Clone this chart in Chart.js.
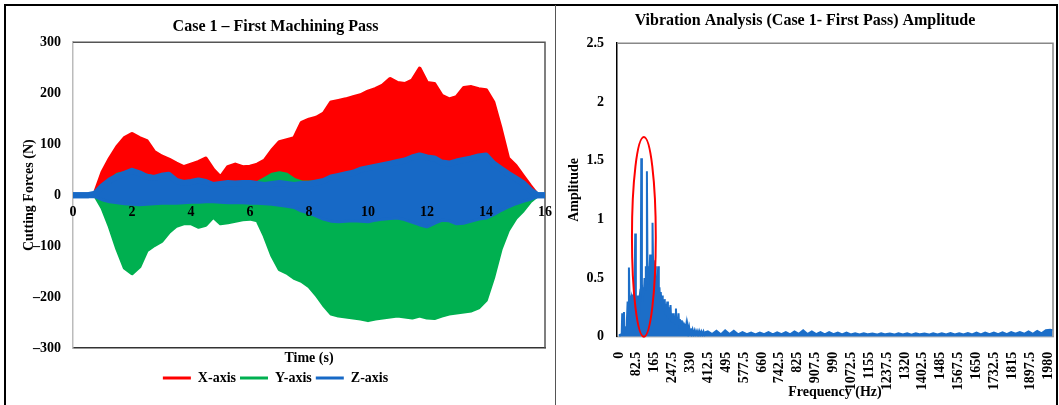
<!DOCTYPE html>
<html><head><meta charset="utf-8">
<script src="https://cdn.jsdelivr.net/npm/chart.js@4.4.1/dist/chart.umd.min.js"></script>
<style>
html,body{margin:0;padding:0;background:#fff;width:1059px;height:405px;overflow:hidden;}
#frame{position:absolute;left:4px;top:4px;width:1054px;height:420px;border:2px solid #000;box-sizing:border-box;}
#divider{position:absolute;left:555px;top:5px;width:1px;height:400px;background:#555;}
#w1{position:absolute;left:6px;top:6px;}
#w2{position:absolute;left:557px;top:6px;}
</style></head>
<body>
<div id="frame"></div><div id="divider"></div>
<div id="w1"><canvas id="c1" width="548" height="399"></canvas></div>
<div id="w2"><canvas id="c2" width="497" height="399"></canvas></div>
<script>
// ---------- Left chart data (envelopes of the dense force signals) ----------
const timeS = [
0,0.25,0.5,0.75, 1,1.25,1.5,1.75, 2,2.25,2.5,2.75, 3,3.25,3.5,3.75,
4,4.25,4.5,4.75, 5,5.25,5.5,5.75, 6,6.25,6.5,6.75, 7,7.25,7.5,7.75,
8,8.25,8.5,8.75, 9,9.25,9.5,9.75, 10,10.25,10.5,10.75, 11,11.25,11.5,11.75,
12,12.25,12.5,12.75, 13,13.25,13.5,13.75, 14,14.25,14.5,14.75, 15,15.25,15.5,15.75, 16];
const xAxisUpper = [
0,0,0,5, 45,72,95,112, 120,112,106,85, 76,70,62,55,
60,65,72,50, 35,55,60,55, 56,60,68,88, 104,108,112,142,
148,152,160,182, 185,188,192,196, 203,208,215,228, 220,218,225,248,
220,218,195,188, 192,210,212,208, 206,182,130,72, 58,38,18,0, 0];
const xAxisLower = [
0,0,0,0, -15,-20,-20,-20, -20,-20,-20,-20, -20,-20,-20,-20,
-20,-20,-20,-20, -20,-20,-20,-20, -20,-20,-20,-20, -20,-20,-20,-20,
-20,-20,-20,-20, -20,-20,-20,-20, -20,-20,-20,-20, -20,-20,-20,-20,
-20,-20,-20,-20, -20,-20,-20,-20, -20,-20,-20,-15, -15,-10,-5,0, 0];
const yAxisUpper = [
0,0,0,0, 15,28,40,43, 42,40,38,35, 32,30,28,24,
22,22,24,20, 20,22,22,22, 22,24,32,40, 43,40,30,25,
25,25,25,25, 25,25,25,25, 25,25,25,25, 25,25,25,25,
25,25,25,25, 25,25,25,25, 25,22,20,15, 10,8,4,0, 0];
const yAxisLower = [
0,0,0,0, -25,-62,-105,-142, -153,-140,-108,-98, -90,-72,-60,-55,
-55,-62,-58,-42, -55,-53,-50,-47, -46,-49,-80,-118, -145,-152,-162,-168,
-178,-195,-215,-232, -236,-238,-240,-242, -245,-242,-240,-238, -236,-238,-240,-236,
-240,-241,-236,-232, -230,-228,-226,-220, -205,-160,-105,-68, -45,-30,-12,0, 0];
const zAxisUpper = [
0,0,0,3, 18,29,37,42, 48,43,36,34, 38,40,28,24,
26,29,26,20, 22,24,23,24, 24,22,20,22, 24,22,20,22,
22,25,28,35, 38,41,44,50, 53,56,59,62, 65,68,74,78,
74,72,64,62, 66,69,72,76, 78,62,52,42, 33,24,10,0, 0];
const zAxisLower = [
0,0,0,0, -6,-10,-12,-14, -15,-16,-15,-14, -13,-13,-13,-12,
-11,-11,-10,-10, -11,-12,-12,-12, -13,-13,-14,-15, -17,-19,-21,-28,
-32,-38,-44,-48, -49,-48,-47,-48, -49,-46,-44,-43, -42,-45,-50,-55,
-59,-52,-46,-47, -53,-52,-48,-44, -42,-35,-27,-20, -14,-9,-5,0, 0];
const forceTicks = [-300,-200,-100,0,100,200,300];
const timeTicks = [0,2,4,6,8,10,12,14,16];
const seriesNames = ['X-axis','Y-axis','Z-axis'];

// ---------- Right chart data (amplitude spectrum) ----------
const freqHz = [
0,5,10,13,15,17,20,23,26,30,
34,37,40,43,46,49,52,55,58,61,
64,67,70,73,75,78,81,84,87,90,
93,96,99,101,103,106,109,112,115,118,
121,124,127,129,132,135,138,141,144,147,
150,153,155,158,161,164,167,170,173,176,
179,181,184,187,190,193,196,199,202,205,
208,211,214,217,220,223,226,229,232,235,
238,241,244,247,250,253,256,259,263,266,
269,272,275,278,281,284,287,290,293,296,
299,302,305,308,311,314,317,320,324,328,
332,336,340,345,350,355,360,365,370,375,
380,385,390,395,400,410,430,450,470,490,
510,530,550,570,590,610,630,650,670,690,
710,730,750,770,790,810,830,850,870,890,
910,930,950,970,990,1010,1030,1050,1070,1090,
1110,1130,1150,1170,1190,1210,1230,1250,1270,1290,
1310,1330,1350,1370,1390,1410,1430,1450,1470,1490,
1510,1530,1550,1570,1590,1610,1630,1650,1670,1690,
1710,1730,1750,1770,1790,1810,1830,1850,1870,1890,
1910,1930,1950,1970,1990,2000];
const amplitude = [
0.02,0.01,0.02,0.04,0.2,0.05,0.06,0.21,0.04,0.05,
0.08,0.15,0.3,0.25,0.59,0.3,0.35,0.28,0.33,0.3,
0.36,0.3,0.4,0.55,0.88,0.35,0.3,0.35,0.25,0.3,
0.2,0.35,0.4,0.6,1.52,0.45,0.3,0.42,0.35,0.5,
0.4,0.6,0.5,1.41,0.5,0.45,0.6,0.55,0.7,0.6,
0.68,0.6,0.97,0.55,0.65,0.5,0.6,0.4,0.45,0.35,
0.5,0.6,0.35,0.42,0.3,0.38,0.28,0.35,0.25,0.3,
0.22,0.32,0.2,0.28,0.18,0.3,0.16,0.25,0.15,0.22,
0.27,0.14,0.2,0.12,0.2,0.12,0.18,0.11,0.24,0.1,
0.16,0.1,0.2,0.08,0.15,0.08,0.14,0.07,0.13,0.06,
0.12,0.05,0.11,0.05,0.1,0.04,0.09,0.04,0.08,0.03,
0.07,0.03,0.06,0.025,0.055,0.025,0.05,0.02,0.05,0.02,
0.045,0.02,0.045,0.02,0.04,0.045,0.022,0.05,0.02,0.055,
0.022,0.05,0.02,0.04,0.022,0.035,0.02,0.035,0.022,0.04,
0.02,0.038,0.022,0.04,0.02,0.045,0.025,0.055,0.022,0.045,
0.022,0.04,0.02,0.04,0.022,0.035,0.02,0.035,0.02,0.03,
0.02,0.03,0.02,0.028,0.018,0.03,0.02,0.028,0.018,0.03,
0.02,0.03,0.018,0.03,0.02,0.028,0.018,0.03,0.02,0.03,
0.02,0.032,0.02,0.03,0.02,0.032,0.02,0.035,0.02,0.035,
0.022,0.035,0.022,0.038,0.022,0.04,0.025,0.04,0.025,0.045,
0.025,0.05,0.028,0.055,0.06,0.055];
const freqTicks = [0,82.5,165,247.5,330,412.5,495,577.5,660,742.5,825,907.5,990,1072.5,1155,1237.5,1320,1402.5,1485,1567.5,1650,1732.5,1815,1897.5,1980];
const freqTickLabels = ['0','82.5','165','247.5','330','412.5','495','577.5','660','742.5','825','907.5','990','1072.5','1155','1237.5','1320','1402.5','1485','1567.5','1650','1732.5','1815','1897.5','1980'];
const ampTicks = [0,0.5,1,1.5,2,2.5];
const highlight = {fromHz:60, toHz:170, fromAmp:0, toAmp:1.7};

// ---------- Styles ----------
const RED = '#FF0000', GREEN = '#00B050', BLUE = '#1769C6', SPEC = '#1C6EC8';
const serif = "'Liberation Serif','Times New Roman',serif";
Chart.defaults.font.family = serif;
Chart.defaults.color = '#000';

const pts = (ys) => ys.map((v, i) => ({x: timeS[i], y: v}));
function band(values, color, fill, width) {
  return {data: pts(values), borderColor: color, backgroundColor: color, fill: fill,
    borderWidth: width, pointRadius: 0, tension: 0, borderJoinStyle: 'round', borderCapStyle: 'round'};
}
const noPad = s => { s.paddingLeft = 0; s.paddingRight = 0; };
const plotBox = {
  id: 'plotBox',
  beforeDatasetsDraw(chart, args, o) {
    const {ctx, chartArea: a} = chart;
    ctx.save();
    ctx.strokeStyle = o.color; ctx.lineWidth = o.width;
    ctx.beginPath();
    ctx.moveTo(a.left, a.top); ctx.lineTo(a.right, a.top); ctx.lineTo(a.right, a.bottom);
    ctx.stroke();
    ctx.restore();
  }
};

new Chart(document.getElementById('c1'), {
  type: 'line',
  data: {datasets: [
    band(zAxisUpper, BLUE, '+1', 6), band(zAxisLower, BLUE, false, 6),
    band(yAxisUpper, GREEN, '+1', 4), band(yAxisLower, GREEN, false, 4),
    band(xAxisUpper, RED, '+1', 4), band(xAxisLower, RED, false, 4)
  ]},
  options: {
    responsive: false, animation: false,
    layout: {padding: {left: 0, right: 9, top: 0, bottom: 10}},
    plugins: {
      plotBox: {color: '#555', width: 1.5},
      title: {display: true, text: 'Case 1 – First Machining Pass', color: '#000',
        font: {size: 16, weight: 'bold'}, padding: {top: 11, bottom: 6}},
      tooltip: {enabled: false},
      legend: {position: 'bottom', labels: {
        usePointStyle: true, pointStyleWidth: 28, padding: 4, color: '#000',
        font: {size: 14, weight: 'bold'},
        generateLabels: () => [RED, GREEN, BLUE].map((c, i) => ({
          text: seriesNames[i], fillStyle: c, strokeStyle: c, lineWidth: 3,
          pointStyle: 'line', hidden: false, datasetIndex: 4 - 2 * i, fontColor: '#000'}))
      }}
    },
    scales: {
      x: {type: 'linear', min: 0, max: 16, position: 'bottom', afterFit: noPad,
        ticks: {display: false}, grid: {display: false, drawTicks: false},
        border: {color: '#333', width: 1.5},
        title: {display: true, text: 'Time (s)', color: '#000', font: {size: 14, weight: 'bold'}, padding: {top: 2, bottom: 0}}},
      x2: {type: 'linear', axis: 'x', min: 0, max: 16, position: {y: 0}, afterFit: noPad,
        afterBuildTicks: s => { s.ticks = timeTicks.map(v => ({value: v})); },
        ticks: {z: 2, autoSkip: false, maxRotation: 0, font: {size: 14, weight: 'bold'}, padding: 9, color: '#000'},
        grid: {display: false, drawTicks: false}, border: {display: false}},
      y: {min: -300, max: 300, afterFit: s => { s.width = 67; },
        afterBuildTicks: s => { s.ticks = forceTicks.map(v => ({value: v})); },
        ticks: {font: {size: 14, weight: 'bold'}, padding: 4, color: '#000',
          callback: v => v < 0 ? '–' + Math.abs(v) : String(v)},
        grid: {display: false}, border: {color: '#bbb', width: 1.5},
        title: {display: true, text: 'Cutting Forces (N)', color: '#000', font: {size: 14, weight: 'bold'}, padding: {top: 15, bottom: 0}}}
    }
  },
  plugins: [plotBox]
});

const ellipsePlugin = {
  id: 'ellipseMark',
  afterDatasetsDraw(chart) {
    const {ctx, scales: {x, y}} = chart;
    const x1 = x.getPixelForValue(highlight.fromHz), x2 = x.getPixelForValue(highlight.toHz);
    const y1 = y.getPixelForValue(highlight.toAmp), y2 = y.getPixelForValue(highlight.fromAmp);
    ctx.save();
    ctx.strokeStyle = '#FF0000'; ctx.lineWidth = 2;
    ctx.beginPath();
    ctx.ellipse((x1 + x2) / 2, (y1 + y2) / 2, (x2 - x1) / 2, (y2 - y1) / 2, 0, 0, Math.PI * 2);
    ctx.stroke();
    ctx.restore();
  }
};

new Chart(document.getElementById('c2'), {
  type: 'line',
  data: {datasets: [{data: freqHz.map((f, i) => ({x: f, y: amplitude[i]})),
    borderColor: SPEC, backgroundColor: SPEC, borderWidth: 2, pointRadius: 0, tension: 0, fill: 'origin'}]},
  options: {
    responsive: false, animation: false,
    layout: {padding: {left: 0, right: 1, top: 0, bottom: 4}},
    plugins: {
      plotBox: {color: '#888', width: 1.5},
      legend: {display: false}, tooltip: {enabled: false},
      title: {display: true, text: 'Vibration Analysis (Case 1- First Pass) Amplitude', color: '#000',
        font: {size: 16, weight: 'bold'}, padding: {top: 5, bottom: 13}}
    },
    scales: {
      x: {type: 'linear', min: -9, max: 2003, afterFit: noPad,
        afterBuildTicks: s => { s.ticks = freqTicks.map(v => ({value: v})); },
        ticks: {autoSkip: false, maxRotation: 90, minRotation: 90, padding: 7, color: '#000',
          font: {size: 14, weight: 'bold'}, callback: (v, i) => freqTickLabels[i]},
        grid: {display: false}, border: {color: '#bbb', width: 1.5},
        title: {display: true, text: 'Frequency (Hz)', color: '#000', font: {size: 14, weight: 'bold'}, padding: {top: -13, bottom: 0}}},
      y: {min: 0, max: 2.5, afterFit: s => { s.width = 60; },
        afterBuildTicks: s => { s.ticks = ampTicks.map(v => ({value: v})); },
        ticks: {font: {size: 14, weight: 'bold'}, padding: 5, color: '#000', callback: v => String(v)},
        grid: {display: false}, border: {color: '#000', width: 1.5},
        title: {display: true, text: 'Amplitude', color: '#000', font: {size: 14, weight: 'bold'}, padding: {top: 9, bottom: 0}}}
    }
  },
  plugins: [plotBox, ellipsePlugin]
});
</script>
</body></html>
